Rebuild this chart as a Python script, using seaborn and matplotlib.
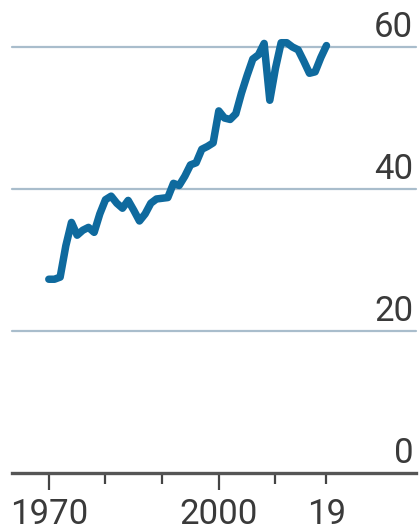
import numpy as np
import pandas as pd
import matplotlib
matplotlib.use("Agg")
import matplotlib.pyplot as plt
import seaborn as sns

# Datos
years = list(range(1970, 2020))
values = [
    27.3, 27.3, 27.6, 32.0, 35.3, 33.5, 34.2, 34.6, 33.9, 36.5,  # 1970s
    38.5, 39.0, 38.0, 37.3, 38.4, 37.0, 35.5, 36.5, 38.0, 38.6,  # 1980s
    38.7, 38.8, 40.8, 40.5, 41.8, 43.4, 43.7, 45.6, 46.0, 46.5,  # 1990s
    51.0, 50.0, 49.8, 50.6, 53.5, 56.0, 58.3, 58.9, 60.5, 52.5,  # 2000s
    57.0, 60.6, 60.6, 60.0, 59.6, 58.0, 56.3, 56.5, 58.5, 60.2,  # 2010s
]
y_ticks = [0, 20, 40, 60]
x_major = [1970, 2000]
x_major_labels = ['1970', '2000']
x_minor = [1980, 1990, 2010, 2019]
x_minor_labels = ['', '', '', '19']

df = pd.DataFrame({'year': years, 'value': values})

sns.set_style("white")
plt.rcParams['font.family'] = ['Roboto', 'DejaVu Sans']

TEXT = '#3a3a3a'
GRID = '#a9bdcc'
LINE = '#0f6a9e'

fig = plt.figure(figsize=(4.19, 5.31), dpi=100)
ax = fig.add_axes([0.0286, 0.109, 0.9642, 0.8025])

# líneas de referencia horizontales
for v in y_ticks[1:]:
    ax.axhline(v, color=GRID, linewidth=1.6, zorder=1, clip_on=False)

sns.lineplot(data=df, x='year', y='value', color=LINE, linewidth=5.4, ax=ax, zorder=3)
for ln in ax.lines[-1:]:
    ln.set_clip_on(False)

ax.set_xlim(1963.5, 2034.8)
ax.set_ylim(0, 60)

# etiquetas del eje y a la derecha, encima de cada línea
ax.set_yticks([])
for v in y_ticks:
    ax.annotate(str(v), xy=(0.993, v), xycoords=('axes fraction', 'data'),
                xytext=(0, 7), textcoords='offset points',
                ha='right', va='baseline', fontsize=25, color=TEXT)

ax.set_xticks(x_major)
ax.set_xticklabels(x_major_labels)
ax.set_xticks(x_minor, minor=True)
ax.set_xticklabels(x_minor_labels, minor=True)
ax.tick_params(axis='x', which='major', length=12, width=1.6, color='#444444',
               labelsize=25, labelcolor=TEXT, pad=6, direction='out', bottom=True)
ax.tick_params(axis='x', which='minor', length=8, width=1.6, color='#444444',
               labelsize=25, labelcolor=TEXT, pad=10, direction='out', bottom=True)

for s in ['top', 'right', 'left']:
    ax.spines[s].set_visible(False)
ax.spines['bottom'].set_color('#555555')
ax.spines['bottom'].set_linewidth(2.4)
ax.spines['bottom'].set_zorder(4)

ax.set_xlabel('')
ax.set_ylabel('')

fig.savefig('out.png', dpi=100)
